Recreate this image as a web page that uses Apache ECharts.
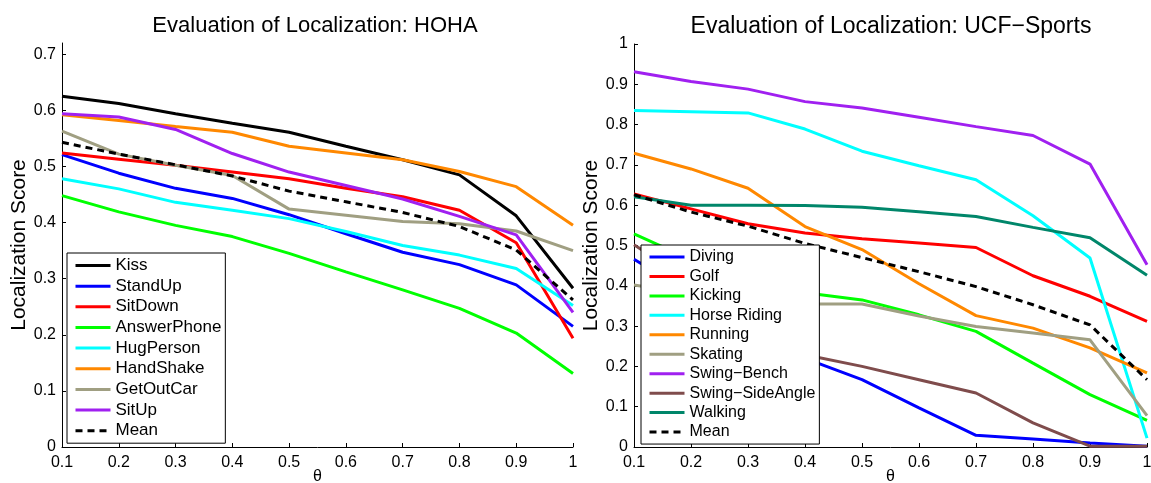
<!DOCTYPE html>
<html>
<head>
<meta charset="utf-8">
<script src="https://cdn.jsdelivr.net/npm/echarts@6/dist/echarts.min.js"></script>
<style>
  html, body { margin: 0; padding: 0; background: #fff; }
  #chart { width: 1151px; height: 483px; }
</style>
</head>
<body>
<div id="chart"></div>
<script>
// Overlap threshold θ shared by both panels
const theta = [0.1, 0.2, 0.3, 0.4, 0.5, 0.6, 0.7, 0.8, 0.9, 1.0];

// HOHA action classes: localization score per θ
const hohaNames = ['Kiss', 'StandUp', 'SitDown', 'AnswerPhone', 'HugPerson', 'HandShake', 'GetOutCar', 'SitUp', 'Mean'];
const kiss        = [0.625, 0.612, 0.594, 0.577, 0.561, 0.536, 0.512, 0.485, 0.412, 0.283];
const standUp     = [0.521, 0.488, 0.461, 0.443, 0.414, 0.380, 0.347, 0.325, 0.289, 0.215];
const sitDown     = [0.524, 0.513, 0.502, 0.490, 0.478, 0.461, 0.446, 0.422, 0.364, 0.194];
const answerPhone = [0.448, 0.419, 0.395, 0.375, 0.345, 0.312, 0.280, 0.247, 0.203, 0.131];
const hugPerson   = [0.478, 0.460, 0.436, 0.422, 0.407, 0.384, 0.359, 0.342, 0.318, 0.252];
const handShake   = [0.592, 0.582, 0.571, 0.561, 0.536, 0.524, 0.512, 0.491, 0.464, 0.395];
const getOutCar   = [0.563, 0.522, 0.502, 0.484, 0.424, 0.413, 0.402, 0.398, 0.385, 0.350];
const sitUp       = [0.594, 0.588, 0.566, 0.523, 0.490, 0.466, 0.442, 0.411, 0.378, 0.240];
const hohaMean    = [0.543, 0.522, 0.503, 0.483, 0.456, 0.437, 0.418, 0.393, 0.351, 0.262];

// UCF-Sports action classes: localization score per θ
const ucfNames = ['Diving', 'Golf', 'Kicking', 'Horse Riding', 'Running', 'Skating', 'Swing\u2212Bench', 'Swing\u2212SideAngle', 'Walking', 'Mean'];
const diving      = [0.466, 0.380, 0.290, 0.220, 0.167, 0.097, 0.029, 0.020, 0.010, 0.002];
const golf        = [0.628, 0.591, 0.554, 0.531, 0.517, 0.506, 0.495, 0.425, 0.374, 0.312];
const kicking     = [0.529, 0.465, 0.420, 0.383, 0.365, 0.328, 0.287, 0.208, 0.130, 0.066];
const horseRiding = [0.835, 0.832, 0.829, 0.789, 0.734, 0.698, 0.663, 0.574, 0.469, 0.022];
const running     = [0.729, 0.690, 0.642, 0.547, 0.490, 0.405, 0.326, 0.295, 0.246, 0.184];
const skating     = [0.402, 0.380, 0.365, 0.355, 0.355, 0.325, 0.299, 0.283, 0.266, 0.078];
const swingBench  = [0.931, 0.907, 0.888, 0.857, 0.841, 0.818, 0.795, 0.773, 0.702, 0.452];
const swingSide   = [0.502, 0.410, 0.315, 0.229, 0.200, 0.167, 0.134, 0.060, 0.002, 0.002];
const walking     = [0.621, 0.600, 0.600, 0.599, 0.595, 0.584, 0.572, 0.545, 0.519, 0.426];
const ucfMean     = [0.626, 0.583, 0.548, 0.505, 0.470, 0.435, 0.398, 0.353, 0.303, 0.167];

// Axis tick labels
const xTicks = [0.1, 0.2, 0.3, 0.4, 0.5, 0.6, 0.7, 0.8, 0.9, 1];
const hohaYTicks = [0, 0.1, 0.2, 0.3, 0.4, 0.5, 0.6, 0.7];
const ucfYTicks = [0, 0.1, 0.2, 0.3, 0.4, 0.5, 0.6, 0.7, 0.8, 0.9, 1];

const FONT = 'Liberation Sans, Arial, Helvetica, sans-serif';
const C = {
  black: '#000000', blue: '#0000ff', red: '#ff0000', green: '#00ff00',
  cyan: '#00ffff', orange: '#ff8800', gray: '#a09f82', purple: '#a020f0',
  brown: '#7f4c4c', teal: '#00866a'
};

const hohaSeries = [
  [kiss, C.black], [standUp, C.blue], [sitDown, C.red], [answerPhone, C.green],
  [hugPerson, C.cyan], [handShake, C.orange], [getOutCar, C.gray], [sitUp, C.purple],
  [hohaMean, C.black]
];
const ucfSeries = [
  [diving, C.blue], [golf, C.red], [kicking, C.green], [horseRiding, C.cyan],
  [running, C.orange], [skating, C.gray], [swingBench, C.purple], [swingSide, C.brown],
  [walking, C.teal], [ucfMean, C.black]
];

function makeSeries(list, names, axisIndex) {
  return list.map(([vals, color], i) => ({
    type: 'line',
    name: names[i],
    xAxisIndex: axisIndex,
    yAxisIndex: axisIndex,
    data: theta.map((t, k) => [t, vals[k]]),
    symbol: 'none',
    clip: true,
    animation: false,
    z: 2 + i * 0.01,
    lineStyle: {
      color: color,
      width: 3,
      type: names[i] === 'Mean' ? [7, 5] : 'solid'
    },
    itemStyle: { color: color }
  }));
}

function xAxis(gridIndex) {
  return {
    type: 'value', gridIndex, min: 0.1, max: 1, interval: 0.1,
    name: '\u03b8', nameLocation: 'middle', nameGap: 22, nameMoveOverlap: false,
    nameTextStyle: { fontFamily: FONT, fontSize: 16, color: '#000' },
    axisLine: { show: true, onZero: false, lineStyle: { color: '#000', width: 1 } },
    axisTick: { show: true, inside: true, length: 4, lineStyle: { color: '#000' },
                customValues: xTicks },
    axisLabel: { fontFamily: FONT, fontSize: 16, color: '#000', margin: 8,
                 customValues: xTicks, formatter: v => String(+v.toFixed(1)) },
    splitLine: { show: false }
  };
}

function yAxis(gridIndex, max, ticks, nameGap) {
  return {
    type: 'value', gridIndex, min: 0, max: max, interval: 0.1,
    name: 'Localization Score', nameLocation: 'middle', nameGap: nameGap,
    nameTextStyle: { fontFamily: FONT, fontSize: 21, color: '#000' },
    axisLine: { show: true, onZero: false, lineStyle: { color: '#000', width: 1 } },
    axisTick: { show: true, inside: true, length: 4, lineStyle: { color: '#000' },
                customValues: ticks },
    axisLabel: { fontFamily: FONT, fontSize: 16, color: '#000', margin: 6,
                 customValues: ticks, formatter: v => String(+v.toFixed(1)) },
    splitLine: { show: false }
  };
}

function legend(names, left, top, gap, fontSize) {
  return {
    data: names, orient: 'vertical', left, top,
    backgroundColor: '#fff', borderColor: '#000', borderWidth: 1, borderRadius: 0,
    padding: [4, 4, 4, 7],
    itemWidth: 35, itemHeight: 14, itemGap: gap,
    selectedMode: false,
    itemStyle: { opacity: 0 },
    lineStyle: { width: 3 },
    textStyle: { fontFamily: FONT, fontSize: fontSize, color: '#000' },
    z: 10
  };
}

const chart = echarts.init(document.getElementById('chart'), null, { renderer: 'canvas' });
chart.setOption({
  animation: false,
  backgroundColor: '#fff',
  title: [
    { text: 'Evaluation of Localization: HOHA', left: 310, top: 10, textAlign: 'center',
      textStyle: { fontFamily: FONT, fontSize: 22, fontWeight: 'normal', color: '#000' } },
    { text: 'Evaluation of Localization: UCF\u2212Sports', left: 886, top: 10, textAlign: 'center',
      textStyle: { fontFamily: FONT, fontSize: 23, fontWeight: 'normal', color: '#000' } }
  ],
  grid: [
    { left: 62, right: 578, top: 43, bottom: 36, outerBoundsMode: 'none', containLabel: false },
    { left: 634, right: 4, top: 44, bottom: 36, outerBoundsMode: 'none', containLabel: false }
  ],
  xAxis: [xAxis(0), xAxis(1)],
  yAxis: [yAxis(0, 0.72, hohaYTicks, 29), yAxis(1, 1, ucfYTicks, 23)],
  legend: [
    legend(hohaNames, 67, 253, 3.65, 17),
    legend(ucfNames, 641, 245, 3.45, 16)
  ],
  series: makeSeries(hohaSeries, hohaNames, 0).concat(makeSeries(ucfSeries, ucfNames, 1))
});
</script>
</body>
</html>
